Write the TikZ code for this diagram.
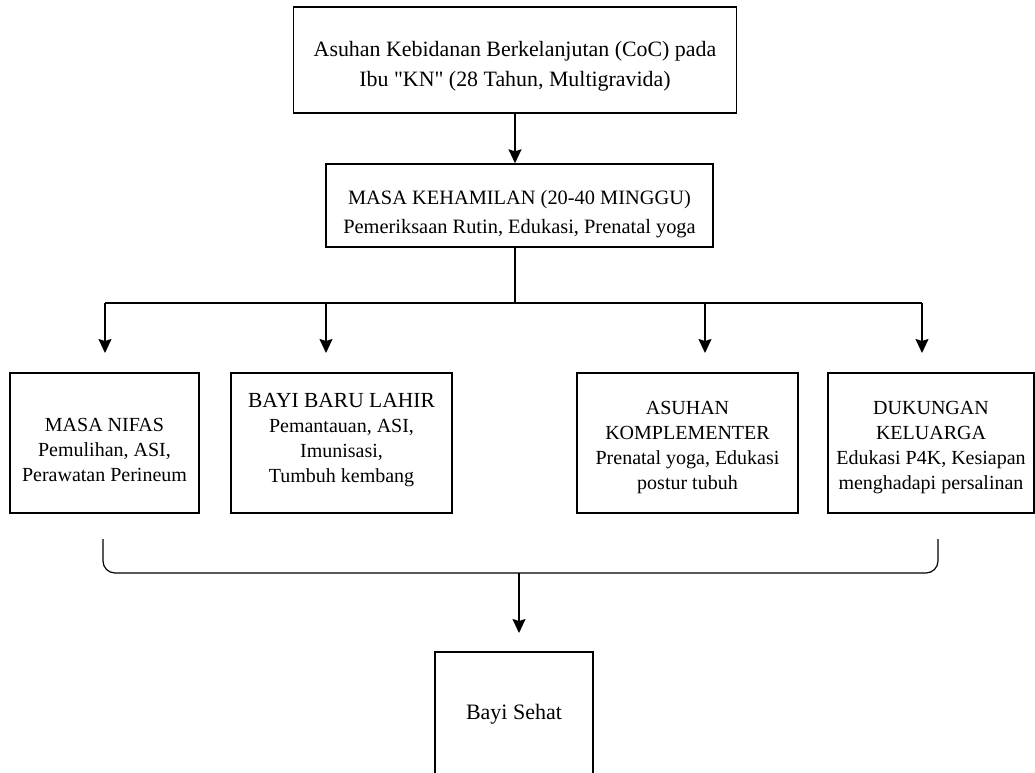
\documentclass[tikz,border=0pt]{standalone}
\usepackage{fontspec}
\setmainfont{Liberation Serif}
\usetikzlibrary{arrows.meta}
\newcommand{\geser}[2]{\raisebox{-#1}[\height][\depth]{\begin{tabular}{@{}c@{}}#2\end{tabular}}}

\begin{document}
\begin{tikzpicture}[x=1pt,y=-1pt,
		box/.style={draw,line width=1.4pt,align=center,inner sep=0pt},
		kecil/.style={font=\fontsize{20}{25}\selectfont,minimum height=140pt},
		garis/.style={line width=1.4pt},
		panah/.style={line width=1.4pt,-{Stealth[length=14pt,width=13pt,inset=2pt]}}]
		\useasboundingbox (0,0) rectangle (1035,772);
		\clip (0,0) rectangle (1035,772);
		\fill[white] (0,0) rectangle (1035,772);
		
		\node[box,font=\fontsize{21.9}{30}\selectfont,minimum width=443pt,minimum height=106pt] (ibu) at (515,60) {\geser{5pt}{Asuhan Kebidanan Berkelanjutan (CoC) pada\\Ibu \textquotedbl KN\textquotedbl{} (28 Tahun, Multigravida)}};
		\node[box,font=\fontsize{20.4}{29}\selectfont,minimum width=387pt,minimum height=83pt] (hamil) at (519.5,205.5) {\geser{8pt}{MASA KEHAMILAN (20-40 MINGGU)\\Pemeriksaan Rutin, Edukasi, Prenatal yoga}};
		
		\node[box,kecil,minimum width=189pt] (nifas) at (104.5,443) {\geser{8pt}{MASA NIFAS\\Pemulihan, ASI,\\Perawatan Perineum}};
		\node[box,kecil,minimum width=221pt] (bbl) at (341.5,443) {\geser{-3pt}{{\fontsize{21.5}{25}\selectfont BAYI BARU LAHIR}\\Pemantauan, ASI,\\Imunisasi,\\Tumbuh kembang}};
		\node[box,kecil,minimum width=221pt] (komp) at (687.5,443) {\geser{4pt}{ASUHAN\\KOMPLEMENTER\\Prenatal yoga, Edukasi\\postur tubuh}};
		\node[box,kecil,minimum width=206pt] (klg) at (931,443) {\geser{4pt}{DUKUNGAN\\KELUARGA\\Edukasi P4K, Kesiapan\\menghadapi persalinan}};
		
		\node[box,font=\fontsize{22}{26}\selectfont,minimum width=158pt,minimum height=124pt] (sehat) at (514,714) {Bayi Sehat};
		
		\coordinate (cab) at (515,303);
		\coordinate (t1) at (105,353);
		\coordinate (t2) at (326,353);
		\coordinate (t3) at (705,353);
		\coordinate (t4) at (922,353);
		\coordinate (kl) at (103,539);
		\coordinate (kr) at (938,539);
		\coordinate (gab) at (519,573);
		\coordinate (t5) at (519,633);
		
		\draw[panah] (ibu.south) -- (ibu.south |- hamil.north);
		\draw[garis] (ibu.south |- hamil.south) -- (cab);
		\draw[garis] (t1 |- cab) -- (t4 |- cab);
		\draw[panah] (t1 |- cab) -- (t1);
		\draw[panah] (t2 |- cab) -- (t2);
		\draw[panah] (t3 |- cab) -- (t3);
		\draw[panah] (t4 |- cab) -- (t4);
		\draw[line width=1.2pt,rounded corners=12pt] (kl) -- (kl |- gab) -- (kr |- gab) -- (kr);
		\draw[panah] (gab) -- (t5);
	\end{tikzpicture}
\end{document}
